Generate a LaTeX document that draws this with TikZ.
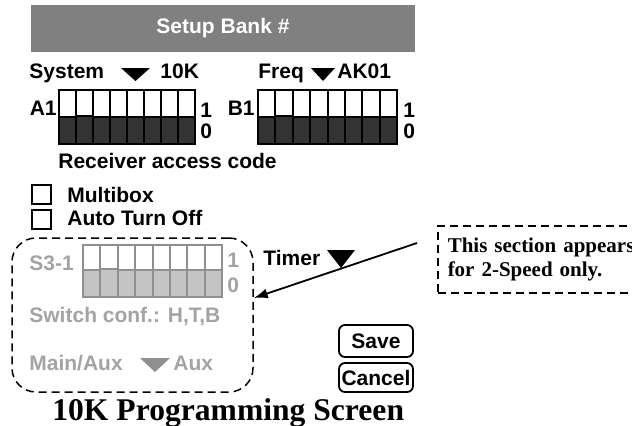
\documentclass[tikz,border=0pt]{standalone}
\usepackage{fontspec}
\setmainfont{Liberation Serif}
\setsansfont{Liberation Sans}
\usepackage{tikz}
\usetikzlibrary{calc,arrows.meta}
\definecolor{barGray}{HTML}{808080}
\definecolor{swDark}{HTML}{333333}
\definecolor{dimText}{HTML}{A3A3A3}
\definecolor{dimFrame}{HTML}{909090}
\definecolor{dimFill}{HTML}{C4C4C4}

\begin{document}
\begin{tikzpicture}[x=0.5pt,y=-0.5pt,
    lbl/.style={font={\fontsize{10.5}{12.5}\selectfont\sffamily\bfseries},inner sep=0pt,anchor=base west},
    dimlbl/.style={lbl,text=dimText},
    checkbox/.style={draw,line width=1pt,minimum size=9.5pt,inner sep=0pt},
    button/.style={draw,line width=0.9pt,rounded corners=3pt,minimum width=37pt,inner sep=0pt,
      font={\fontsize{10.5}{12.5}\selectfont\sffamily\bfseries}},
    sw/.style={draw=black,line width=1pt,fill=white},
    swlow/.style={draw=black,line width=1pt,fill=swDark},
    dimsw/.style={draw=dimFrame,line width=1pt,fill=white},
    dimswlow/.style={draw=dimFrame,line width=1pt,fill=dimFill},
    dashline/.style={line width=0.75pt,dash pattern=on 4pt off 2.5pt}]
\clip (0,0) rectangle (632,425);
\fill[barGray] (31,5) rectangle (415,52);
\node[lbl,anchor=base,text=white] (title) at (223,33) {Setup Bank \#};
\node[lbl] (sys) at (29,78) {System};
\fill (121,68) -- (150,68) -- (135.5,81) -- cycle;
\node[lbl] (sysval) at (160,78) {10K};
\node[lbl] (freq) at (258,78) {Freq};
\fill (311,68) -- (335,68) -- (323,81) -- cycle;
\node[lbl] (freqval) at (337,78) {AK01};
\node[lbl,anchor=base east] (bankA) at (57,115) {A1};
\foreach \i in {0,...,7} {
  \draw[sw] ({59+17*\i},90) rectangle ++(17,54);
  \draw[swlow] ({59+17*\i},{117-1.5*(\i==1)}) rectangle ({76+17*\i},144);
}
\node[lbl] (aOne) at (200,117) {1};
\node[lbl] (aZero) at (200,138) {0};
\node[lbl,anchor=base east] (bankB) at (255,115) {B1};
\foreach \i in {0,...,7} {
  \draw[sw] ({258+17.375*\i},90) rectangle ++(17.375,54);
  \draw[swlow] ({258+17.375*\i},{117-1.5*(\i==1)}) rectangle ({275.375+17.375*\i},144);
}
\node[lbl] (bOne) at (403,117) {1};
\node[lbl] (bZero) at (403,138) {0};
\node[lbl] (rac) at (58,168) {Receiver access code};
\node[checkbox] (mbox) at (41,194.5) {};
\node[lbl] (mtext) at (67,202) {Multibox};
\node[checkbox] (abox) at (41,219.5) {};
\node[lbl] (atext) at (67,225) {Auto Turn Off};
\node[draw,dashline,rounded corners=12pt,minimum width=120.5pt,minimum height=77pt] (sect) at (132.5,315) {};
\node[dimlbl] (s3) at (29,270) {S3-1};
\foreach \i in {0,...,7} {
  \draw[dimsw] ({83+17.375*\i},245) rectangle ++(17.375,52);
  \draw[dimswlow] ({83+17.375*\i},{270-1.5*(\i==1)}) rectangle ({100.375+17.375*\i},297);
}
\node[dimlbl] (sOne) at (227,267) {1};
\node[dimlbl] (sZero) at (227,292) {0};
\node[dimlbl] (conf) at (29,322) {Switch conf.: H,T,B};
\node[dimlbl] (mainaux) at (29,370) {Main/Aux};
\fill[dimFrame] (140,358) -- (170,358) -- (155,372) -- cycle;
\node[dimlbl] (auxval) at (173,370) {Aux};
\node[lbl] (timer) at (263,265) {Timer};
\fill (327,250) -- (355,250) -- (341,268) -- cycle;
\node[draw,dashline,anchor=north west,minimum width=115pt,minimum height=33.5pt,text width=105pt,
  inner xsep=4pt,align=left,font={\fontsize{10.5}{12}\selectfont\rmfamily\bfseries}] (note) at (437,225)
  {This section appears\\for 2-Speed only.};
\coordinate (tail) at (417,243);
\draw[-{Latex[length=7pt,width=5pt]},line width=0.9pt] (tail) -- ($(sect.east)+(0,-17)$);
\node[button,minimum height=16pt] (save) at (376,341) {Save};
\node[button,minimum height=14.5pt] (cancel) at (376,377.5) {Cancel};
\node[font={\fontsize{15.8}{18}\selectfont\rmfamily\bfseries},inner sep=0pt,anchor=base west] (caption) at (52,420) {10K Programming Screen};
\end{tikzpicture}
\end{document}
